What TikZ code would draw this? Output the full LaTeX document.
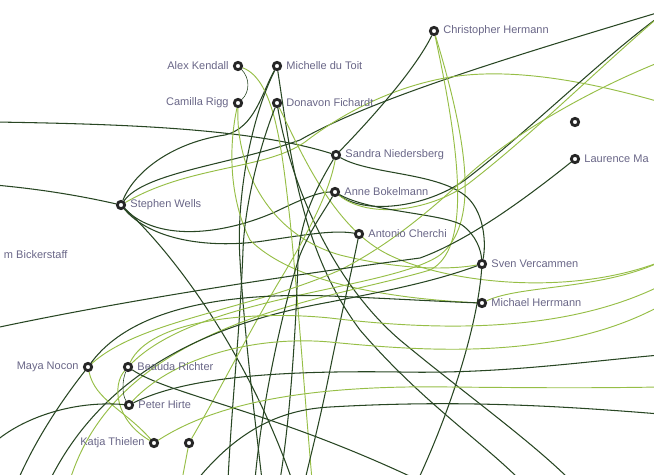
\documentclass[tikz,border=0pt]{standalone}
\usepackage{fontspec}
\setmainfont{Liberation Sans}
\usetikzlibrary{backgrounds}
\definecolor{linkdark}{RGB}{40,70,35}
\definecolor{linklight}{RGB}{150,190,70}
\definecolor{namegrey}{RGB}{105,102,135}

\begin{document}
\begin{tikzpicture}[x=0.03cm,y=-0.03cm,label distance=2pt,
  ring/.style={circle,draw=black!85,line width=2.4pt,fill=white,minimum size=0.22cm,inner sep=0pt},
  lab/.style={text=namegrey,font=\fontsize{9.4}{11}\selectfont,inner sep=1.5pt},
  dk/.style={draw=linkdark,line width=0.9pt},
  lt/.style={draw=linklight,line width=0.8pt}]
\useasboundingbox (0,0) rectangle (654,474);
% people
\node[ring,label={[lab]right:Christopher Hermann}] (CH) at (434,31) {};
\node[ring,label={[lab]left:Alex Kendall}] (AK) at (238,66) {};
\node[ring,label={[lab]right:Michelle du Toit}] (MT) at (277,66) {};
\node[ring,label={[lab]left:Camilla Rigg}] (CR) at (238,103) {};
\node[ring,label={[lab]right:Donavon Fichardt}] (DF) at (277,103) {};
\node[ring] (X1) at (575,122) {};
\node[ring,label={[lab]right:Laurence Ma}] (LM) at (575,159) {};
\node[ring,label={[lab]right:Sandra Niedersberg}] (SN) at (336,155) {};
\node[ring,label={[lab]right:Anne Bokelmann}] (AB) at (335,192) {};
\node[ring,label={[lab]right:Stephen Wells}] (SW) at (121,205) {};
\node[ring,label={[lab]right:Antonio Cherchi}] (AC) at (359,234) {};
\node[lab,anchor=west] (BK) at (2,255) {m Bickerstaff};
\node[ring,label={[lab]right:Sven Vercammen}] (SV) at (482,264) {};
\node[ring,label={[lab]right:Michael Herrmann}] (MH) at (482,303) {};
\node[ring,label={[lab]left:Maya Nocon}] (MN) at (88,367) {};
\node[ring,label={[lab]right:Beauda Richter}] (BR) at (128,367) {};
\node[ring,label={[lab]right:Peter Hirte}] (PH) at (129,405) {};
\node[ring,label={[lab]left:Katja Thielen}] (KT) at (154,443) {};
\node[ring] (X2) at (189,443) {};
% loose ends outside the frame
\coordinate (L1) at (-5,122);  \coordinate (L2) at (-5,185);
\coordinate (L3) at (-5,328);  \coordinate (L4) at (-5,442);
\coordinate (TR1) at (660,12); \coordinate (TR2) at (660,16);
\coordinate (R1) at (660,62);  \coordinate (R2) at (660,102);
\coordinate (R3) at (660,262); \coordinate (R4) at (660,286);
\coordinate (R5) at (660,306); \coordinate (R6) at (660,355);
\coordinate (R7) at (660,387); \coordinate (R8) at (660,414);
\coordinate (B1) at (18,480);  \coordinate (B2) at (50,480);
\coordinate (B3) at (70,480);  \coordinate (B4) at (182,480);
\coordinate (B5) at (197,480); \coordinate (B6) at (228,480);
\coordinate (B7) at (262,480); \coordinate (B8) at (280,480);
\coordinate (B9) at (292,480); \coordinate (B10) at (305,480);
\coordinate (B11) at (312,480);\coordinate (B12) at (418,480);
\coordinate (B14) at (520,480);\coordinate (B15) at (570,480);
\coordinate (B16) at (255,480);
\begin{scope}[on background layer]
\clip (0,0) rectangle (654,474);
% upper left
\draw[dk] (L1) .. controls (120,124) and (250,128) .. (SN);
\draw[dk] (L2) .. controls (50,190) and (90,198) .. (SW);
\draw[dk] (SW) .. controls (135,170) and (175,142) .. (225,135) .. controls (255,128) and (262,92) .. (MT);
\draw[dk] (SW) .. controls (145,172) and (230,165) .. (300,140) .. controls (370,100) and (500,60) .. (TR1);
\draw[lt] (R2) .. controls (590,82) and (510,66) .. (445,78) .. controls (390,88) and (340,115) .. (305,142) .. controls (265,170) and (190,165) .. (SW);
\draw[dk] (SW) .. controls (180,260) and (250,360) .. (B9);
\draw[dk] (SW) .. controls (150,240) and (210,250) .. (270,240) .. controls (310,234) and (335,230) .. (AC);
\draw[dk] (SW) .. controls (160,245) and (230,232) .. (275,212) .. controls (300,200) and (318,192) .. (AB);
% Alex, Camilla, Michelle, Donavon
\draw[dk,line width=0.5pt] (AK) .. controls (250,78) and (250,92) .. (CR);
\draw[lt] (AK) .. controls (275,80) and (282,150) .. (290,220) .. controls (298,300) and (305,400) .. (B11);
\draw[dk] (MT) .. controls (250,120) and (236,200) .. (240,260) .. controls (244,330) and (255,420) .. (B7);
\draw[dk] (MT) .. controls (290,150) and (300,250) .. (360,330) .. controls (420,400) and (480,440) .. (B14);
\draw[lt] (CR) .. controls (228,150) and (230,200) .. (250,240) .. controls (300,290) and (420,300) .. (MH);
\draw[lt] (CR) .. controls (236,170) and (270,235) .. (340,255) .. controls (400,270) and (450,270) .. (SV);
\draw[dk] (DF) .. controls (262,140) and (245,200) .. (243,250) .. controls (240,330) and (232,400) .. (B6);
\draw[dk] (DF) .. controls (290,180) and (330,280) .. (400,340) .. controls (460,390) and (530,440) .. (B15);
\draw[lt] (DF) .. controls (300,150) and (330,220) .. (380,250) .. controls (430,280) and (560,300) .. (R3);
% Christopher
\draw[dk] (CH) .. controls (415,70) and (370,120) .. (SN);
\draw[lt] (CH) .. controls (470,150) and (478,225) .. (440,255) .. controls (390,290) and (200,295) .. (BR);
\draw[lt] (CH) .. controls (462,160) and (470,250) .. (430,270) .. controls (330,300) and (120,320) .. (B3);
% Sandra, Anne, Antonio
\draw[dk] (SN) .. controls (370,175) and (440,172) .. (468,198) .. controls (485,215) and (486,245) .. (SV);
\draw[dk] (SN) .. controls (315,190) and (300,220) .. (298,260) .. controls (296,330) and (290,420) .. (B8);
\draw[lt] (SN) .. controls (330,190) and (310,230) .. (280,280) .. controls (250,330) and (220,390) .. (X2);
\draw[lt] (X2) -- (B4);
\draw[dk] (AB) .. controls (365,215) and (425,208) .. (465,180) .. controls (530,130) and (600,60) .. (TR2);
\draw[lt] (AB) .. controls (368,219) and (428,212) .. (468,184) .. controls (533,134) and (603,64) .. (TR2);
\draw[dk] (AB) .. controls (370,212) and (440,213) .. (462,225) .. controls (476,235) and (481,250) .. (SV);
\draw[dk] (AB) .. controls (325,210) and (310,230) .. (300,255) .. controls (285,300) and (262,400) .. (B16);
\draw[dk] (AC) .. controls (352,270) and (340,320) .. (330,370) .. controls (320,420) and (312,450) .. (B10);
\draw[lt] (R1) .. controls (590,90) and (510,135) .. (463,180) .. controls (420,220) and (380,250) .. (340,270) .. controls (250,310) and (140,320) .. (MN);
% Laurence
\draw[dk] (LM) .. controls (530,195) and (470,240) .. (420,258) .. controls (330,270) and (150,295) .. (L3);
% Sven, Michael
\draw[dk] (SV) .. controls (478,320) and (455,400) .. (B12);
\draw[dk] (SV) .. controls (430,283) and (380,292) .. (330,302) .. controls (230,320) and (110,360) .. (B2);
\draw[dk] (MN) .. controls (130,310) and (220,292) .. (330,296) .. controls (400,299) and (450,302) .. (MH);
\draw[lt] (MH) .. controls (520,285) and (600,290) .. (R3);
% lower left
\draw[dk] (B1) .. controls (40,430) and (70,390) .. (MN);
\draw[lt] (MN) .. controls (95,400) and (125,410) .. (KT);
\draw[lt] (BR) .. controls (112,385) and (115,420) .. (KT);
\draw[dk,line width=0.5pt] (BR) .. controls (122,380) and (122,395) .. (PH);
\draw[dk] (L4) .. controls (20,420) and (70,400) .. (PH);
\draw[dk] (BR) .. controls (170,395) and (270,410) .. (B12);
\draw[dk] (PH) .. controls (180,380) and (260,370) .. (400,372) .. controls (500,374) and (580,362) .. (R6);
\draw[lt] (PH) .. controls (170,360) and (250,335) .. (330,342) .. controls (430,352) and (560,360) .. (R5);
\draw[lt] (BR) .. controls (150,320) and (250,310) .. (330,318) .. controls (430,330) and (560,335) .. (R4);
\draw[lt] (KT) .. controls (220,400) and (320,385) .. (450,387) .. controls (550,388) and (600,388) .. (R7);
\draw[dk] (B5) .. controls (230,440) and (270,410) .. (330,407) .. controls (450,400) and (550,405) .. (R8);
\end{scope}
\end{tikzpicture}
\end{document}
